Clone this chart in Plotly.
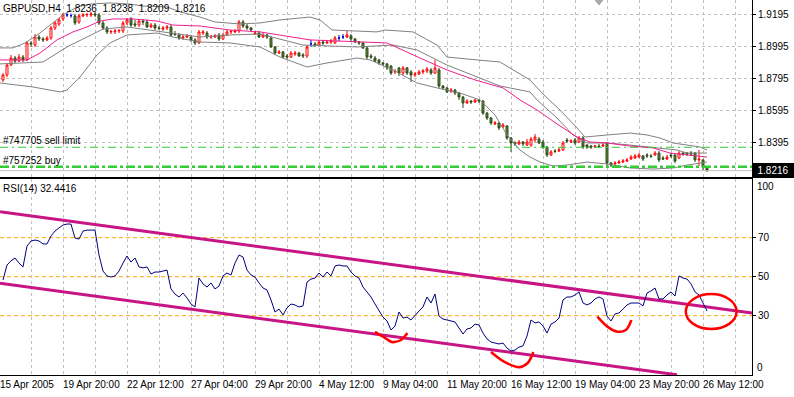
import plotly.graph_objects as go

# ---------------- price data (GBPUSD, H4) ----------------
bars = list(range(177))

opens = [
 1.8783, 1.8814, 1.8876, 1.8920, 1.8901, 1.8926, 1.8908, 1.9014, 1.9001, 1.9051,
 1.9039, 1.9033, 1.9045, 1.9108, 1.9133, 1.9164, 1.9189, 1.9185, 1.9183, 1.9145,
 1.9183, 1.9189, 1.9189, 1.9195, 1.9189, 1.9139, 1.9108, 1.9083, 1.9083, 1.9089,
 1.9089, 1.9139, 1.9164, 1.9133, 1.9126, 1.9151, 1.9145, 1.9114, 1.9126, 1.9108,
 1.9101, 1.9108, 1.9114, 1.9070, 1.9064, 1.9045, 1.9051, 1.9051, 1.9033, 1.9014,
 1.9076, 1.9076, 1.9051, 1.9051, 1.9064, 1.9039, 1.9064, 1.9083, 1.9083, 1.9089,
 1.9145, 1.9120, 1.9108, 1.9070, 1.9076, 1.9051, 1.9064, 1.9045, 1.8989, 1.8951,
 1.8958, 1.8933, 1.8926, 1.8945, 1.8951, 1.8939, 1.8933, 1.9008, 1.9008, 1.9001,
 1.9020, 1.9014, 1.9020, 1.9014, 1.9045, 1.9051, 1.9051, 1.9058, 1.9039, 1.9020,
 1.9014, 1.8983, 1.8933, 1.8920, 1.8908, 1.8889, 1.8883, 1.8870, 1.8833, 1.8858,
 1.8826, 1.8858, 1.8833, 1.8814, 1.8820, 1.8833, 1.8839, 1.8845, 1.8826, 1.8845,
 1.8745, 1.8733, 1.8714, 1.8720, 1.8701, 1.8676, 1.8639, 1.8651, 1.8645, 1.8658,
 1.8651, 1.8576, 1.8545, 1.8508, 1.8514, 1.8489, 1.8495, 1.8420, 1.8389, 1.8383,
 1.8395, 1.8376, 1.8376, 1.8408, 1.8414, 1.8395, 1.8364, 1.8314, 1.8339, 1.8339,
 1.8345, 1.8408, 1.8395, 1.8408, 1.8395, 1.8420, 1.8376, 1.8370, 1.8364, 1.8370,
 1.8370, 1.8389, 1.8264, 1.8258, 1.8264, 1.8270, 1.8276, 1.8289, 1.8295, 1.8301,
 1.8308, 1.8314, 1.8308, 1.8314, 1.8326, 1.8295, 1.8289, 1.8314, 1.8314, 1.8295,
 1.8326, 1.8326, 1.8326, 1.8326, 1.8283, 1.8283, 1.8236]

highs = [
 1.8826, 1.8889, 1.8939, 1.8933, 1.8945, 1.8939, 1.9026, 1.9026, 1.9070, 1.9064,
 1.9051, 1.9058, 1.9120, 1.9151, 1.9170, 1.9201, 1.9201, 1.9198, 1.9195, 1.9195,
 1.9201, 1.9201, 1.9208, 1.9208, 1.9201, 1.9151, 1.9120, 1.9095, 1.9101, 1.9101,
 1.9151, 1.9170, 1.9176, 1.9158, 1.9164, 1.9164, 1.9158, 1.9139, 1.9139, 1.9120,
 1.9120, 1.9126, 1.9126, 1.9089, 1.9076, 1.9064, 1.9070, 1.9064, 1.9045, 1.9095,
 1.9095, 1.9089, 1.9064, 1.9070, 1.9076, 1.9076, 1.9095, 1.9095, 1.9101, 1.9158,
 1.9158, 1.9133, 1.9114, 1.9089, 1.9089, 1.9076, 1.9070, 1.9058, 1.8995, 1.8970,
 1.8964, 1.8945, 1.8964, 1.8964, 1.8958, 1.8951, 1.9001, 1.9033, 1.9020, 1.9033,
 1.9033, 1.9033, 1.9039, 1.9058, 1.9064, 1.9070, 1.9089, 1.9070, 1.9045, 1.9026,
 1.9020, 1.8989, 1.8945, 1.8933, 1.8914, 1.8895, 1.8889, 1.8876, 1.8851, 1.8864,
 1.8870, 1.8864, 1.8845, 1.8833, 1.8845, 1.8851, 1.8864, 1.8858, 1.8908, 1.8858,
 1.8751, 1.8739, 1.8733, 1.8726, 1.8708, 1.8683, 1.8664, 1.8658, 1.8664, 1.8664,
 1.8658, 1.8583, 1.8551, 1.8526, 1.8520, 1.8514, 1.8501, 1.8426, 1.8401, 1.8408,
 1.8401, 1.8414, 1.8426, 1.8445, 1.8426, 1.8408, 1.8370, 1.8345, 1.8351, 1.8358,
 1.8401, 1.8420, 1.8414, 1.8420, 1.8433, 1.8433, 1.8383, 1.8376, 1.8376, 1.8383,
 1.8389, 1.8395, 1.8270, 1.8276, 1.8283, 1.8289, 1.8295, 1.8314, 1.8320, 1.8326,
 1.8314, 1.8326, 1.8320, 1.8339, 1.8339, 1.8308, 1.8314, 1.8326, 1.8320, 1.8339,
 1.8333, 1.8333, 1.8339, 1.8333, 1.8345, 1.8289, 1.8238]

lows = [
 1.8770, 1.8801, 1.8870, 1.8889, 1.8895, 1.8895, 1.8901, 1.8989, 1.8989, 1.9026,
 1.9020, 1.9026, 1.9033, 1.9095, 1.9120, 1.9151, 1.9176, 1.9172, 1.9126, 1.9133,
 1.9176, 1.9176, 1.9176, 1.9176, 1.9126, 1.9095, 1.9070, 1.9070, 1.9070, 1.9076,
 1.9076, 1.9126, 1.9114, 1.9114, 1.9114, 1.9126, 1.9108, 1.9108, 1.9095, 1.9095,
 1.9089, 1.9095, 1.9051, 1.9058, 1.9033, 1.9033, 1.9045, 1.9020, 1.9001, 1.9008,
 1.9064, 1.9039, 1.9039, 1.9045, 1.9026, 1.9033, 1.9058, 1.9070, 1.9076, 1.9076,
 1.9108, 1.9095, 1.9083, 1.9064, 1.9045, 1.9045, 1.9039, 1.8983, 1.8939, 1.8945,
 1.8920, 1.8914, 1.8920, 1.8933, 1.8926, 1.8920, 1.8920, 1.8989, 1.8989, 1.8995,
 1.9001, 1.9008, 1.9008, 1.9008, 1.9026, 1.9039, 1.9045, 1.9026, 1.9014, 1.9001,
 1.8976, 1.8914, 1.8914, 1.8895, 1.8876, 1.8870, 1.8845, 1.8814, 1.8820, 1.8808,
 1.8814, 1.8814, 1.8770, 1.8801, 1.8814, 1.8820, 1.8826, 1.8814, 1.8820, 1.8733,
 1.8720, 1.8701, 1.8701, 1.8689, 1.8658, 1.8608, 1.8633, 1.8633, 1.8639, 1.8639,
 1.8564, 1.8533, 1.8501, 1.8501, 1.8470, 1.8483, 1.8408, 1.8333, 1.8370, 1.8376,
 1.8370, 1.8370, 1.8364, 1.8395, 1.8383, 1.8351, 1.8301, 1.8308, 1.8326, 1.8333,
 1.8339, 1.8389, 1.8389, 1.8376, 1.8389, 1.8351, 1.8351, 1.8351, 1.8358, 1.8358,
 1.8364, 1.8245, 1.8239, 1.8245, 1.8258, 1.8264, 1.8270, 1.8283, 1.8289, 1.8295,
 1.8276, 1.8295, 1.8295, 1.8308, 1.8270, 1.8283, 1.8283, 1.8295, 1.8264, 1.8289,
 1.8308, 1.8308, 1.8308, 1.8270, 1.8245, 1.8220, 1.8209]

closes = [
 1.8814, 1.8876, 1.8920, 1.8901, 1.8926, 1.8908, 1.9014, 1.9008, 1.9051, 1.9039,
 1.9033, 1.9045, 1.9108, 1.9139, 1.9158, 1.9189, 1.9189, 1.9185, 1.9139, 1.9183,
 1.9189, 1.9192, 1.9195, 1.9189, 1.9139, 1.9108, 1.9083, 1.9086, 1.9089, 1.9092,
 1.9139, 1.9158, 1.9126, 1.9126, 1.9151, 1.9145, 1.9114, 1.9126, 1.9108, 1.9105,
 1.9108, 1.9114, 1.9064, 1.9067, 1.9045, 1.9051, 1.9058, 1.9033, 1.9014, 1.9083,
 1.9083, 1.9051, 1.9055, 1.9058, 1.9039, 1.9064, 1.9083, 1.9086, 1.9089, 1.9145,
 1.9120, 1.9108, 1.9095, 1.9076, 1.9051, 1.9064, 1.9051, 1.8989, 1.8951, 1.8958,
 1.8926, 1.8926, 1.8951, 1.8951, 1.8933, 1.8933, 1.8989, 1.9008, 1.9001, 1.9020,
 1.9014, 1.9020, 1.9026, 1.9045, 1.9045, 1.9051, 1.9064, 1.9039, 1.9020, 1.9014,
 1.8983, 1.8926, 1.8926, 1.8901, 1.8889, 1.8883, 1.8858, 1.8826, 1.8836, 1.8826,
 1.8858, 1.8826, 1.8814, 1.8820, 1.8833, 1.8839, 1.8851, 1.8826, 1.8858, 1.8745,
 1.8733, 1.8708, 1.8720, 1.8701, 1.8676, 1.8639, 1.8651, 1.8645, 1.8658, 1.8651,
 1.8576, 1.8545, 1.8514, 1.8514, 1.8483, 1.8501, 1.8420, 1.8389, 1.8383, 1.8395,
 1.8383, 1.8395, 1.8414, 1.8426, 1.8389, 1.8364, 1.8314, 1.8333, 1.8336, 1.8345,
 1.8389, 1.8401, 1.8401, 1.8389, 1.8420, 1.8364, 1.8364, 1.8364, 1.8370, 1.8367,
 1.8376, 1.8264, 1.8251, 1.8264, 1.8270, 1.8276, 1.8283, 1.8301, 1.8308, 1.8314,
 1.8289, 1.8308, 1.8305, 1.8326, 1.8283, 1.8289, 1.8301, 1.8308, 1.8276, 1.8326,
 1.8320, 1.8320, 1.8320, 1.8283, 1.8289, 1.8236, 1.8216]

# ---------------- band / moving-average lines (read at sample bars) ----------------
band_up_x = [-0.75, 2.5, 5.5, 9.25, 11.75, 15, 18.5, 21.75, 26.75, 31.75, 35, 41, 44.25, 49.25,
             53, 59.25, 64.25, 69.25, 76.75, 79.25, 82.25, 93.5, 95.5, 102.5, 108.5, 111, 118.5,
             124.25, 129.25, 131.75, 135, 139.25, 143.5, 145.5, 151, 156.75, 161, 164.25, 167.5,
             174.25, 176]
band_up_y = [1.8983, 1.8983, 1.9014, 1.9076, 1.9126, 1.9189, 1.9239, 1.9257, 1.9264, 1.9257,
             1.9245, 1.9239, 1.9208, 1.9176, 1.9145, 1.9133, 1.9139, 1.9158, 1.9176, 1.9158,
             1.9095, 1.9083, 1.9095, 1.9083, 1.9001, 1.8926, 1.8908, 1.8895, 1.8820, 1.8783,
             1.8695, 1.8595, 1.8483, 1.8426, 1.8439, 1.8451, 1.8439, 1.8420, 1.8389, 1.8364,
             1.8345]

band_mid_x = [-0.75, 4.25, 10, 16, 21, 25, 31, 38.5, 49.25, 56.75, 64.25, 75, 81.75, 88.5, 97.5,
              103.5, 111, 119.25, 124.25, 131.75, 133.5, 138.5, 142.5, 146, 151, 156.75, 164.25,
              168.5, 171, 176]
band_mid_y = [1.8883, 1.8889, 1.8895, 1.8989, 1.9051, 1.9101, 1.9114, 1.9089, 1.9051, 1.9064,
              1.9070, 1.9001, 1.8995, 1.8989, 1.9001, 1.8970, 1.8876, 1.8795, 1.8745, 1.8708,
              1.8658, 1.8545, 1.8439, 1.8389, 1.8389, 1.8376, 1.8358, 1.8345, 1.8326, 1.8326]

ma_x = [-0.75, 6, 9.25, 13.5, 17.5, 21, 24.25, 27.5, 32.5, 38.5, 42.5, 49.25, 56.75, 64.25, 76.75,
        87.5, 96, 104.25, 111, 118, 125, 129.25, 133.5, 138.5, 143.5, 146.75, 151, 156.75, 162.5,
        166.75, 171, 176]
ma_y = [1.8908, 1.8908, 1.8951, 1.9033, 1.9083, 1.9114, 1.9151, 1.9164, 1.9164, 1.9151, 1.9126,
        1.9120, 1.9095, 1.9083, 1.9033, 1.9020, 1.9014, 1.8920, 1.8845, 1.8783, 1.8733, 1.8658,
        1.8595, 1.8508, 1.8426, 1.8395, 1.8389, 1.8370, 1.8358, 1.8326, 1.8314, 1.8301]

band_lo_x = [-0.75, 7.5, 14.25, 16, 19.25, 23.5, 26.75, 31, 38.5, 42.5, 49.25, 56.75, 64.25, 69.25,
             76, 81, 88.5, 91.75, 97.5, 103.5, 108.5, 114.25, 119.25, 123, 126, 129.25, 131.75,
             134.25, 137.5, 141, 146, 151, 156.75, 162.5, 167.5, 171, 176]
band_lo_y = [1.8764, 1.8739, 1.8708, 1.8720, 1.8801, 1.8939, 1.9014, 1.9064, 1.9076, 1.9051,
             1.9020, 1.9014, 1.8989, 1.8926, 1.8864, 1.8889, 1.8920, 1.8908, 1.8845, 1.8764,
             1.8733, 1.8701, 1.8658, 1.8564, 1.8439, 1.8345, 1.8301, 1.8270, 1.8245, 1.8251,
             1.8270, 1.8258, 1.8233, 1.8226, 1.8233, 1.8251, 1.8270]

# ---------------- orders ----------------
sell_limit_price = 1.8362
buy_price = 1.8241
bid_price = 1.8216

# ---------------- RSI(14) ----------------
rsi = [
 48.3, 56.0, 58.1, 59.6, 57.0, 55.0, 65.7, 68.3, 68.8, 68.3,
 66.8, 66.8, 70.9, 73.4, 75.0, 76.5, 77.0, 77.0, 69.8, 69.3,
 73.4, 73.9, 73.9, 73.9, 61.1, 52.9, 50.4, 49.8, 50.4, 52.9,
 57.0, 60.6, 57.5, 59.6, 55.0, 54.5, 55.0, 51.4, 52.4, 52.4,
 52.9, 53.4, 43.7, 41.1, 39.6, 41.6, 39.1, 36.0, 34.5, 49.3,
 46.3, 44.7, 46.8, 43.7, 45.2, 50.4, 51.9, 50.9, 57.0, 61.1,
 60.1, 53.4, 50.9, 49.8, 46.8, 44.2, 43.2, 38.1, 31.9, 33.4,
 30.4, 34.0, 36.0, 35.5, 34.5, 35.0, 47.3, 48.8, 49.3, 51.9,
 49.8, 52.4, 50.4, 55.5, 56.0, 55.5, 55.5, 52.4, 50.4, 49.3,
 44.7, 42.2, 39.6, 36.0, 32.9, 29.3, 27.3, 22.7, 24.7, 31.9,
 28.8, 29.3, 27.8, 30.4, 32.4, 34.5, 39.6, 36.5, 41.1, 29.8,
 28.3, 27.8, 27.3, 26.8, 23.7, 20.6, 23.2, 23.7, 25.7, 25.2,
 21.1, 18.1, 16.5, 16.0, 15.5, 16.0, 13.4, 11.9, 12.4, 13.9,
 14.5, 19.6, 27.8, 26.3, 26.8, 24.7, 21.1, 25.7, 26.8, 28.8,
 38.1, 39.6, 39.6, 40.6, 42.2, 36.5, 35.5, 36.5, 38.6, 39.6,
 38.6, 29.8, 27.3, 30.9, 31.4, 33.4, 35.5, 36.5, 36.5, 36.5,
 35.0, 41.6, 42.7, 44.2, 38.6, 38.6, 40.6, 42.2, 40.1, 50.4,
 49.3, 48.8, 46.3, 42.2, 40.6, 36.5, 32.44]
rsi_levels = [70, 50, 30]

# RSI trend lines (bar index, RSI value)
trend_up_x = [-0.75, 187.25]
trend_up_y = [83.3, 31.4]
trend_lo_x = [-0.75, 168.5]
trend_lo_y = [46.6, -0.3]

# hand-drawn red marks on RSI panel
mark1_x = [93, 95.1, 97.2, 97.75, 99.4, 101.1]
mark1_y = [21.7, 19.1, 16.5, 16.5, 17.4, 21.1]
mark2_x = [122, 125.25, 129, 131.1, 132.6]
mark2_y = [11.4, 6.5, 3.6, 5.6, 11.4]
mark3_x = [148.6, 151.1, 153.6, 155.7, 157.1]
mark3_y = [29.5, 24.4, 21.8, 22.7, 27.8]
ellipse_x = [170.7, 183.4]
ellipse_y = [23.2, 41.1]

# ---------------- axes ticks ----------------
grid_bars = list(range(7, 188, 8))
date_bars = [-0.75, 15, 31, 47, 63, 79, 95, 111, 127, 143, 159, 175]
date_labels = ["15 Apr 2005", "19 Apr 20:00", "22 Apr 12:00", "27 Apr 04:00", "29 Apr 20:00",
               "4 May 12:00", "9 May 04:00", "11 May 20:00", "16 May 12:00", "19 May 04:00",
               "23 May 20:00", "26 May 12:00"]
price_ticks = [1.8395, 1.8595, 1.8795, 1.8995, 1.9195]

FONT = "Liberation Sans, Arial, sans-serif"
FS = 10
GRID = "#C0C0C0"

fig = go.Figure()

# candles
body_idx = [i for i in bars if opens[i] != closes[i]]
doji_idx = [i for i in bars if opens[i] == closes[i]]
fig.add_trace(go.Candlestick(
    x=[bars[i] for i in body_idx], open=[opens[i] for i in body_idx],
    high=[highs[i] for i in body_idx], low=[lows[i] for i in body_idx],
    close=[closes[i] for i in body_idx],
    increasing=dict(line=dict(color="#FF0000", width=1), fillcolor="#FFFFFF"),
    decreasing=dict(line=dict(color="#2E4A1A", width=1), fillcolor="#5E8A3A"),
    whiskerwidth=0, xaxis="x", yaxis="y", hoverinfo="skip"))
fig.add_trace(go.Candlestick(
    x=[bars[i] for i in doji_idx], open=[opens[i] for i in doji_idx],
    high=[highs[i] for i in doji_idx], low=[lows[i] for i in doji_idx],
    close=[closes[i] for i in doji_idx],
    increasing=dict(line=dict(color="#0000CD", width=1), fillcolor="#0000CD"),
    decreasing=dict(line=dict(color="#0000CD", width=1), fillcolor="#0000CD"),
    whiskerwidth=0, xaxis="x", yaxis="y", hoverinfo="skip"))

# bands and MA
for xs, ys, col in [(band_up_x, band_up_y, "#808080"), (band_mid_x, band_mid_y, "#808080"),
                    (band_lo_x, band_lo_y, "#808080"), (ma_x, ma_y, "#F01E8C")]:
    fig.add_trace(go.Scatter(x=xs, y=ys, mode="lines", line=dict(color=col, width=1),
                             xaxis="x", yaxis="y", hoverinfo="skip"))

# RSI panel
fig.add_trace(go.Scatter(x=trend_up_x, y=trend_up_y, mode="lines",
                         line=dict(color="#C71585", width=3), xaxis="x2", yaxis="y2", hoverinfo="skip"))
fig.add_trace(go.Scatter(x=trend_lo_x, y=trend_lo_y, mode="lines",
                         line=dict(color="#C71585", width=3), xaxis="x2", yaxis="y2", hoverinfo="skip"))
fig.add_trace(go.Scatter(x=bars, y=rsi, mode="lines", line=dict(color="#000080", width=1),
                         xaxis="x2", yaxis="y2", hoverinfo="skip"))
for mx, my in [(mark1_x, mark1_y), (mark2_x, mark2_y), (mark3_x, mark3_y)]:
    fig.add_trace(go.Scatter(x=mx, y=my, mode="lines", line=dict(color="#FF0000", width=2.5, shape="spline"),
                             xaxis="x2", yaxis="y2", hoverinfo="skip"))

shapes = []
for lv in rsi_levels:
    shapes.append(dict(type="line", xref="x2 domain", x0=0, x1=1, yref="y2", y0=lv, y1=lv,
                       line=dict(color="#FFA500", width=1, dash="4px,3px"), layer="below"))
shapes.append(dict(type="circle", xref="x2", yref="y2", x0=ellipse_x[0], x1=ellipse_x[1],
                   y0=ellipse_y[0], y1=ellipse_y[1], line=dict(color="#FF0000", width=2.5)))
shapes.append(dict(type="line", xref="x domain", x0=0, x1=1, yref="y", y0=bid_price, y1=bid_price,
                   line=dict(color="#C0C0C0", width=1)))
shapes.append(dict(type="line", xref="x domain", x0=0, x1=1, yref="y", y0=sell_limit_price, y1=sell_limit_price,
                   line=dict(color="#32CD32", width=1, dash="8px,4px,2px,4px")))
shapes.append(dict(type="line", xref="x domain", x0=0, x1=1, yref="y", y0=buy_price, y1=buy_price,
                   line=dict(color="#32CD32", width=2.5, dash="9px,3px,3px,3px")))
# chart shift marker
shapes.append(dict(type="path", xref="x", yref="y", path="M 148,1.92825 L 150,1.92825 L 149,1.9252 Z",
                   fillcolor="#A8A8A8", line=dict(color="#A8A8A8", width=1)))

annotations = [
    dict(xref="paper", yref="paper", x=0, y=1, xanchor="left", yanchor="top", xshift=1, yshift=-1,
         text="GBPUSD,H4  1.8236  1.8238  1.8209  1.8216", showarrow=False,
         font=dict(family=FONT, size=FS, color="black")),
    dict(xref="paper", yref="y2", x=0, y=100, xanchor="left", yanchor="top", xshift=1, yshift=-2,
         text="RSI(14) 32.4416", showarrow=False, font=dict(family=FONT, size=FS, color="black")),
    dict(xref="paper", yref="y", x=0, y=sell_limit_price, xanchor="left", yanchor="bottom", xshift=1,
         yshift=-1, text="#747705 sell limit", showarrow=False, font=dict(family=FONT, size=FS, color="black")),
    dict(xref="paper", yref="y", x=0, y=buy_price, xanchor="left", yanchor="bottom", xshift=1,
         yshift=-1, text="#757252 buy", showarrow=False, font=dict(family=FONT, size=FS, color="black")),
    dict(xref="paper", yref="y", x=1, y=bid_price, xanchor="left", yanchor="middle", xshift=0,
         text="1.8216", showarrow=False, bgcolor="#000000", bordercolor="#000000", borderpad=1,
         width=38, align="center", font=dict(family=FONT, size=FS, color="white")),
    dict(xref="paper", yref="y2", x=1, y=96.5, xanchor="left", yanchor="middle", xshift=3,
         text="100", showarrow=False, font=dict(family=FONT, size=FS, color="black")),
    dict(xref="paper", yref="y2", x=1, y=3.3, xanchor="left", yanchor="middle", xshift=3,
         text="0", showarrow=False, font=dict(family=FONT, size=FS, color="black")),
]
for b, lab in zip(date_bars, date_labels):
    annotations.append(dict(xref="x2", yref="paper", x=b, y=0, xanchor="left", yanchor="top",
                            xshift=-2, yshift=-2, text=lab, showarrow=False,
                            font=dict(family=FONT, size=FS, color="black")))

xcommon = dict(range=[-0.75, 187.25], tickvals=grid_bars, showticklabels=False, ticks="",
               showgrid=True, gridcolor=GRID, griddash="3px,3px", gridwidth=1, zeroline=False,
               showline=True, linecolor="black", linewidth=1, fixedrange=True)

fig.update_layout(
    width=794, height=397, margin=dict(l=0, r=42, t=0, b=22),
    paper_bgcolor="#FFFFFF", plot_bgcolor="#FFFFFF", showlegend=False,
    boxgap=0.3,
    font=dict(family=FONT, size=FS, color="black"),
    xaxis=dict(domain=[0, 1], anchor="y", rangeslider=dict(visible=False), mirror=False, **xcommon),
    xaxis2=dict(domain=[0, 1], anchor="y2", matches="x", rangeslider=dict(visible=False), mirror=True,
                **xcommon),
    yaxis=dict(domain=[0.5293, 1], range=[1.81794, 1.92825], side="right", anchor="x",
               tickvals=price_ticks, ticktext=[f"{v:.4f}" for v in price_ticks],
               ticks="outside", ticklen=3, tickcolor="black", showgrid=True, gridcolor=GRID,
               griddash="3px,3px", zeroline=False, showline=True, linecolor="black", linewidth=1,
               fixedrange=True),
    yaxis2=dict(domain=[0, 0.524], range=[-0.41, 100.36], side="right", anchor="x2",
                tickvals=rsi_levels, ticktext=[str(v) for v in rsi_levels], ticks="outside", ticklen=3,
                tickcolor="black", showgrid=False, zeroline=False, showline=True, linecolor="black",
                linewidth=1, fixedrange=True),
    shapes=shapes, annotations=annotations,
)

fig.write_html("out.html", config={"displayModeBar": False},
               post_script="document.body.style.margin='0';document.body.style.overflow='hidden';")
